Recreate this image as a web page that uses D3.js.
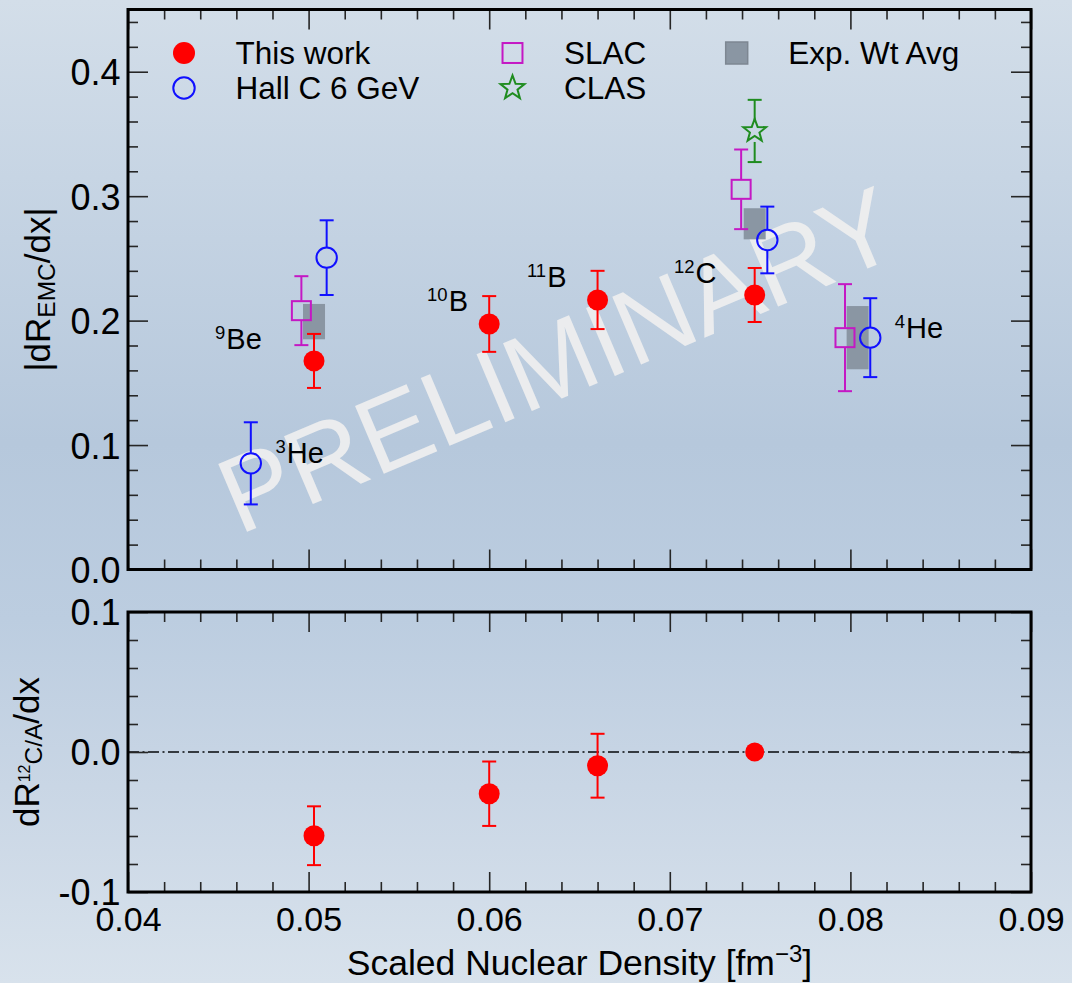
<!DOCTYPE html>
<html>
<head>
<meta charset="utf-8">
<script src="https://cdn.jsdelivr.net/npm/d3@7"></script>
<style>
  html, body { margin: 0; padding: 0; overflow: hidden; background: #c6d4e3; }
  svg text { font-family: "Liberation Sans", Arial, Helvetica, sans-serif; }
</style>
</head>
<body>
<svg id="chart" width="1072" height="983"></svg>
<script>
// ---- EMC slope |dR/dx| versus scaled nuclear density ----
// This work (filled red circles)
const thisWorkX   = [0.0503, 0.0600, 0.0660, 0.0747];
const thisWorkY   = [0.1676, 0.1973, 0.2166, 0.2206];
const thisWorkErr = [0.0217, 0.0224, 0.0234, 0.0217];

// Hall C 6 GeV (open blue circles)
const hallCX   = [0.0468, 0.0510, 0.0754, 0.0811];
const hallCY   = [0.0853, 0.2506, 0.2648, 0.1863];
const hallCErr = [0.0330, 0.0300, 0.0268, 0.0317];

// SLAC (open magenta squares)
const slacX   = [0.0496, 0.07395, 0.0797];
const slacY   = [0.2080, 0.3055, 0.1863];
const slacErr = [0.0277, 0.0320, 0.0430];

// CLAS (open green star)
const clasX   = [0.0747];
const clasY   = [0.3524];
const clasErr = [0.0250];

// Experimental weighted average (grey bands)
const avgX   = [0.0503, 0.0747, 0.0804];
const avgY   = [0.1992, 0.2778, 0.1863];
const avgErr = [0.0142, 0.0125, 0.0254];

// Lower panel: slope of the 12C/A ratio
const ratioX   = [0.0503, 0.0600, 0.0660, 0.0747];
const ratioY   = [-0.0598, -0.0298, -0.0098, 0.0];
const ratioErr = [0.0210, 0.0230, 0.0228, 0.0];

// Nucleus labels (mass number, symbol, anchor in data units)
const nucleusMass = ["9", "10", "11", "12", "4", "3"];
const nucleusSym  = ["Be", "B", "B", "C", "He", "He"];
const nucleusX    = [0.04482, 0.05656, 0.06209, 0.07023, 0.08245, 0.04817];
const nucleusY    = [0.1772, 0.2077, 0.2270, 0.2302, 0.1858, 0.0853];

// Axis ticks
const xTicks      = [0.04, 0.05, 0.06, 0.07, 0.08, 0.09];
const topYTicks   = [0.0, 0.1, 0.2, 0.3, 0.4];
const botYTicks   = [-0.1, 0.0, 0.1];

// Legend entries
const legendLabels = ["This work", "Hall C 6 GeV", "SLAC", "CLAS", "Exp. Wt Avg"];

// ---- layout ----
const W = 1072, H = 983;
const X0 = 128, X1 = 1031;
const TOP = { y0: 569.5, y1: 9.5 };
const BOT = { y0: 892, y1: 612 };
const FONT = '"Liberation Sans", Arial, Helvetica, sans-serif';

const RED = "#ff0000", BLUE = "#1010ff", MAG = "#c418c4", GRN = "#1f8c1f";
const BOXFILL = "#8a96a3";

const svg = d3.select("#chart");

const x = d3.scaleLinear().domain([0.04, 0.09]).range([X0, X1]);
const yTop = d3.scaleLinear().domain([0, 0.45]).range([TOP.y0, TOP.y1]);
const yBot = d3.scaleLinear().domain([-0.1, 0.1]).range([BOT.y0, BOT.y1]);

// tick numbers with a plain hyphen for the sign
const fmt1 = v => d3.format(".1f")(v).replace("\u2212", "-");
const fmt2 = v => d3.format(".2f")(v).replace("\u2212", "-");

// background
const defs = svg.append("defs");
const grad = defs.append("linearGradient").attr("id", "bg")
  .attr("x1", 0).attr("y1", 0).attr("x2", 0).attr("y2", 1);
[[0, "#d3dee9"], [0.18, "#c7d5e4"], [0.45, "#b6c8dc"], [0.63, "#bccde0"], [0.8, "#c9d6e5"], [1, "#d8e2ec"]]
  .forEach(([o, c]) => grad.append("stop").attr("offset", o).attr("stop-color", c));
svg.append("rect").attr("width", W).attr("height", H).attr("fill", "url(#bg)");

// watermark
svg.append("text")
  .attr("transform", "translate(572,394) rotate(-23)")
  .attr("text-anchor", "middle")
  .attr("font-size", 107)
  .attr("fill", "#efefef")
  .attr("fill-opacity", 0.92)
  .text("PRELIMINARY");

// ---- helpers ----
function starPath(R, r) {
  const pts = [];
  for (let i = 0; i < 10; i++) {
    const a = -Math.PI / 2 + i * Math.PI / 5;
    const rr = i % 2 === 0 ? R : r;
    pts.push([rr * Math.cos(a), rr * Math.sin(a)]);
  }
  return "M" + pts.map(p => p[0].toFixed(2) + "," + p[1].toFixed(2)).join("L") + "Z";
}

function errorBars(g, xs, ys, es, yScale, color, gap) {
  xs.forEach((xv, i) => {
    const e = es[i];
    if (!e) return;
    const cx = x(xv), cy = yScale(ys[i]);
    const yt = yScale(ys[i] + e), yb = yScale(ys[i] - e);
    const grp = g.append("g").attr("stroke", color).attr("stroke-width", 2).attr("fill", "none");
    if (cy - gap > yt) grp.append("line").attr("x1", cx).attr("x2", cx).attr("y1", yt).attr("y2", cy - gap);
    if (cy + gap < yb) grp.append("line").attr("x1", cx).attr("x2", cx).attr("y1", cy + gap).attr("y2", yb);
    grp.append("line").attr("x1", cx - 7).attr("x2", cx + 7).attr("y1", yt).attr("y2", yt);
    grp.append("line").attr("x1", cx - 7).attr("x2", cx + 7).attr("y1", yb).attr("y2", yb);
  });
}

function drawSymbol(g, type, cx, cy, color, big) {
  const s = big ? 1.05 : 1;
  if (type === "dot") {
    g.append("circle").attr("cx", cx).attr("cy", cy).attr("r", 10.5 * s).attr("fill", color);
  } else if (type === "circle") {
    g.append("circle").attr("cx", cx).attr("cy", cy).attr("r", 10.2 * s)
      .attr("fill", "none").attr("stroke", color).attr("stroke-width", 2);
  } else if (type === "square") {
    const h = 9.5 * s;
    g.append("rect").attr("x", cx - h).attr("y", cy - h).attr("width", 2 * h).attr("height", 2 * h)
      .attr("fill", "none").attr("stroke", color).attr("stroke-width", 2);
  } else if (type === "star") {
    g.append("path").attr("d", starPath(12 * s, 5 * s)).attr("transform", `translate(${cx},${cy})`)
      .attr("fill", "none").attr("stroke", color).attr("stroke-width", 2);
  } else if (type === "box") {
    const h = 11;
    g.append("rect").attr("x", cx - h).attr("y", cy - h).attr("width", 2 * h).attr("height", 2 * h)
      .attr("fill", BOXFILL).attr("stroke", "#7d8792").attr("stroke-width", 1.5);
  }
}

// ---- upper panel ----
const upperG = svg.append("g");

// weighted-average bands (behind the points)
upperG.selectAll("rect.avg").data(avgX).join("rect")
  .attr("class", "avg")
  .attr("x", d => x(d) - 11)
  .attr("width", 22)
  .attr("y", (d, i) => yTop(avgY[i] + avgErr[i]))
  .attr("height", (d, i) => yTop(avgY[i] - avgErr[i]) - yTop(avgY[i] + avgErr[i]))
  .attr("fill", BOXFILL);

errorBars(upperG, slacX, slacY, slacErr, yTop, MAG, 10);
errorBars(upperG, hallCX, hallCY, hallCErr, yTop, BLUE, 10.5);
errorBars(upperG, clasX, clasY, clasErr, yTop, GRN, 11);
errorBars(upperG, thisWorkX, thisWorkY, thisWorkErr, yTop, RED, 0);

slacX.forEach((d, i) => drawSymbol(upperG, "square", x(d), yTop(slacY[i]), MAG));
hallCX.forEach((d, i) => drawSymbol(upperG, "circle", x(d), yTop(hallCY[i]), BLUE));
clasX.forEach((d, i) => drawSymbol(upperG, "star", x(d), yTop(clasY[i]), GRN));
thisWorkX.forEach((d, i) => drawSymbol(upperG, "dot", x(d), yTop(thisWorkY[i]), RED));

// nucleus labels
nucleusSym.forEach((sym, i) => {
  const t = upperG.append("text")
    .attr("x", x(nucleusX[i])).attr("y", yTop(nucleusY[i]))
    .attr("fill", "#000");
  t.append("tspan").attr("font-size", 18.5).attr("dy", -10).text(nucleusMass[i]);
  t.append("tspan").attr("font-size", 29).attr("dy", 10).attr("dx", 1).text(sym);
});

// ---- lower panel ----
const lowerG = svg.append("g");
lowerG.append("line")
  .attr("x1", X0).attr("x2", X1).attr("y1", yBot(0)).attr("y2", yBot(0))
  .attr("stroke", "#353a40").attr("stroke-width", 2)
  .attr("stroke-dasharray", "11,3.5,2,3.5");
errorBars(lowerG, ratioX, ratioY, ratioErr, yBot, RED, 0);
ratioX.forEach((d, i) => {
  lowerG.append("circle").attr("cx", x(d)).attr("cy", yBot(ratioY[i]))
    .attr("r", ratioErr[i] ? 10.5 : 9.5).attr("fill", RED);
});

// ---- axes: inward ticks on all four sides ----
function minorValues(lo, hi, step, majorEvery) {
  const n = Math.round((hi - lo) / step);
  const out = [];
  for (let i = 0; i <= n; i++) if (i % majorEvery !== 0) out.push(lo + i * step);
  return out;
}
const xMinor = minorValues(0.04, 0.09, 0.002, 5);
const topMinor = minorValues(0, 0.44, 0.02, 5);
const botMinor = minorValues(-0.1, 0.1, 0.02, 5);

function frame(yScale, yMajor, yMinor, panel, withXLabels) {
  const yA = panel.y1, yB = panel.y0;
  const g = svg.append("g");
  const tickStyle = sel => {
    sel.select(".domain").remove();
    sel.selectAll(".tick line").attr("stroke", "#262626").attr("stroke-width", 1.6);
  };
  // left
  const left = g.append("g").attr("transform", `translate(${X0},0)`)
    .call(d3.axisLeft(yScale).tickValues(yMajor).tickSize(-20).tickPadding(7.5).tickFormat(fmt1))
    .call(tickStyle);
  left.selectAll(".tick text").attr("font-size", 36).attr("font-family", FONT).attr("fill", "#000").attr("dy", "0.36em");
  g.append("g").attr("transform", `translate(${X0},0)`)
    .call(d3.axisLeft(yScale).tickValues(yMinor).tickSize(-10).tickFormat(""))
    .call(tickStyle);
  // right
  g.append("g").attr("transform", `translate(${X1},0)`)
    .call(d3.axisRight(yScale).tickValues(yMajor).tickSize(-20).tickFormat(""))
    .call(tickStyle);
  g.append("g").attr("transform", `translate(${X1},0)`)
    .call(d3.axisRight(yScale).tickValues(yMinor).tickSize(-10).tickFormat(""))
    .call(tickStyle);
  // top edge
  g.append("g").attr("transform", `translate(0,${yA})`)
    .call(d3.axisTop(x).tickValues(xTicks).tickSize(-20).tickFormat(""))
    .call(tickStyle);
  g.append("g").attr("transform", `translate(0,${yA})`)
    .call(d3.axisTop(x).tickValues(xMinor).tickSize(-10).tickFormat(""))
    .call(tickStyle);
  // bottom edge
  const b = g.append("g").attr("transform", `translate(0,${yB})`)
    .call(d3.axisBottom(x).tickValues(xTicks).tickSize(-20)
      .tickFormat(withXLabels ? fmt2 : ""))
    .call(tickStyle);
  if (withXLabels) {
    b.selectAll(".tick text").attr("font-size", 34).attr("font-family", FONT).attr("fill", "#000")
      .attr("y", 14.5).attr("dy", "0.71em");
  }
  g.append("g").attr("transform", `translate(0,${yB})`)
    .call(d3.axisBottom(x).tickValues(xMinor).tickSize(-10).tickFormat(""))
    .call(tickStyle);
  // spines
  g.append("rect").attr("x", X0).attr("y", yA).attr("width", X1 - X0).attr("height", yB - yA)
    .attr("fill", "none").attr("stroke", "#000").attr("stroke-width", 3);
}
frame(yTop, topYTicks, topMinor, TOP, false);
frame(yBot, botYTicks, botMinor, BOT, true);

// ---- axis titles ----
const yt1 = svg.append("text")
  .attr("transform", `translate(50,${(TOP.y0 + TOP.y1) / 2}) rotate(-90)`)
  .attr("text-anchor", "middle").attr("font-size", 35).attr("fill", "#000");
yt1.append("tspan").text("|dR");
yt1.append("tspan").attr("font-size", 24.5).attr("dy", 5).text("EMC");
yt1.append("tspan").attr("dy", -5).text("/dx|");

const yt2 = svg.append("text")
  .attr("transform", `translate(39,${(BOT.y0 + BOT.y1) / 2}) rotate(-90)`)
  .attr("text-anchor", "middle").attr("font-size", 35).attr("fill", "#000");
yt2.append("tspan").text("dR");
yt2.append("tspan").attr("font-size", 16).attr("dy", -9).text("12");
yt2.append("tspan").attr("font-size", 24.5).attr("dy", 12).text("C/A");
yt2.append("tspan").attr("dy", -3).text("/dx");

const xt = svg.append("text")
  .attr("x", (X0 + X1) / 2).attr("y", 975)
  .attr("text-anchor", "middle").attr("font-size", 35.5).attr("fill", "#000");
xt.append("tspan").text("Scaled Nuclear Density [fm");
xt.append("tspan").attr("font-size", 24).attr("dy", -13).text("\u22123");
xt.append("tspan").attr("dy", 13).text("]");

// ---- legend ----
const legendSym = ["dot", "circle", "square", "star", "box"];
const legendCol = [0, 0, 1, 1, 2];
const legendRow = [0, 1, 0, 1, 0];
const legendColors = [RED, BLUE, MAG, GRN, BOXFILL];
const colX = [184, 512.5, 736.7];
const rowY = [53, 88];
const leg = svg.append("g");
legendLabels.forEach((lab, i) => {
  const cx = colX[legendCol[i]], cy = rowY[legendRow[i]];
  drawSymbol(leg, legendSym[i], cx, cy, legendColors[i], true);
  leg.append("text").attr("x", cx + 51.5).attr("y", cy + 10.5)
    .attr("font-size", 31.5).attr("fill", "#000").text(lab);
});
</script>
</body>
</html>
